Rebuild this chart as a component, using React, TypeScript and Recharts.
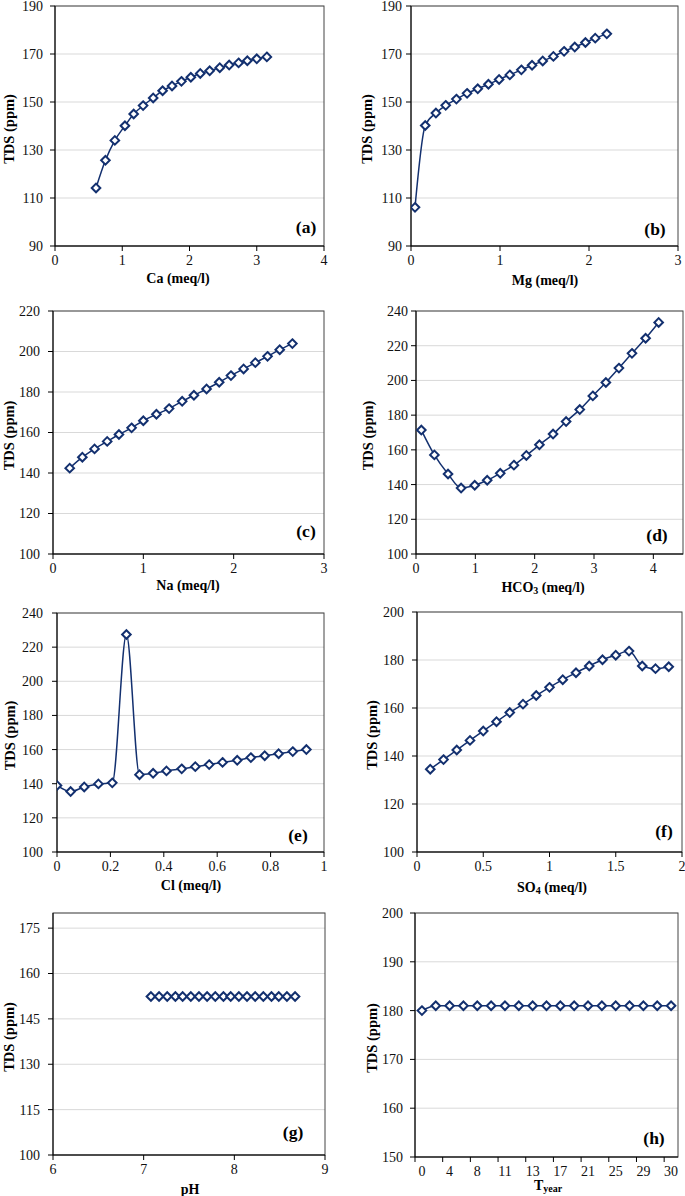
import { LineChart, Line, XAxis, YAxis, CartesianGrid } from 'recharts'

const NAVY = '#13306f'
const FONT = "'Liberation Serif', 'Times New Roman', serif"

// (a) Ca
const caMeq = [0.61, 0.75, 0.89, 1.04, 1.17, 1.31, 1.46, 1.6, 1.74, 1.88, 2.02, 2.16, 2.3, 2.45, 2.59, 2.73, 2.86, 3.0, 3.15]
const caTds = [114.2, 125.7, 134, 140.1, 145, 148.5, 151.7, 154.7, 156.7, 158.6, 160.3, 161.9, 163, 164.3, 165.4, 166.3, 167.2, 168, 168.8]

// (b) Mg
const mgMeq = [0.045, 0.16, 0.28, 0.39, 0.51, 0.63, 0.75, 0.87, 0.99, 1.11, 1.24, 1.36, 1.48, 1.6, 1.72, 1.84, 1.96, 2.07, 2.2]
const mgTds = [106.1, 140.2, 145.4, 148.6, 151.2, 153.6, 155.5, 157.4, 159.4, 161.3, 163.4, 165.3, 167.1, 169.0, 171.1, 172.9, 174.8, 176.6, 178.4]

// (c) Na
const naMeq = [0.185, 0.325, 0.46, 0.6, 0.73, 0.87, 1.0, 1.145, 1.285, 1.43, 1.56, 1.7, 1.84, 1.97, 2.11, 2.24, 2.375, 2.51, 2.65]
const naTds = [142.4, 147.8, 151.9, 155.6, 159.0, 162.3, 165.8, 169.0, 171.8, 175.4, 178.4, 181.5, 184.8, 188.1, 191.4, 194.5, 197.6, 200.9, 203.9]

// (d) HCO3
const hco3Meq = [0.09, 0.31, 0.54, 0.76, 0.99, 1.2, 1.42, 1.65, 1.86, 2.08, 2.31, 2.53, 2.76, 2.98, 3.2, 3.42, 3.64, 3.87, 4.09]
const hco3Tds = [171.4, 157.1, 146.1, 138.0, 139.6, 142.5, 146.5, 151.2, 156.8, 162.9, 169.1, 176.3, 183.2, 191.1, 198.8, 207.1, 215.6, 224.3, 233.4]

// (e) Cl
const clMeq = [0, 0.051, 0.102, 0.155, 0.207, 0.26, 0.309, 0.36, 0.41, 0.467, 0.518, 0.57, 0.62, 0.675, 0.726, 0.778, 0.83, 0.883, 0.934]
const clTds = [139.0, 135.4, 138.1, 139.9, 140.5, 227.4, 145.3, 146.1, 147.5, 148.7, 150.0, 151.2, 152.5, 153.7, 155.3, 156.4, 157.6, 158.8, 160.0]

// (f) SO4
const so4Meq = [0.1, 0.2, 0.3, 0.4, 0.5, 0.6, 0.7, 0.8, 0.9, 1.0, 1.1, 1.2, 1.3, 1.4, 1.5, 1.6, 1.7, 1.8, 1.9]
const so4Tds = [134.5, 138.5, 142.5, 146.5, 150.4, 154.3, 158.1, 161.6, 165.2, 168.6, 171.8, 174.7, 177.5, 180.1, 182.0, 183.7, 177.5, 176.4, 177.2]

// (g) pH
const phVals = [7.08, 7.17, 7.26, 7.35, 7.43, 7.52, 7.61, 7.7, 7.79, 7.88, 7.96, 8.05, 8.14, 8.23, 8.32, 8.41, 8.49, 8.58, 8.67]
const phTds = [152.4, 152.4, 152.4, 152.4, 152.4, 152.4, 152.4, 152.4, 152.4, 152.4, 152.4, 152.4, 152.4, 152.4, 152.4, 152.4, 152.4, 152.4, 152.4]

// (h) time, category axis
const years = ['0', '2', '4', '6', '8', '10', '11', '12', '13', '15', '17', '19', '21', '23', '25', '27', '29', '30', '30']
const yearTds = [180, 181, 181, 181, 181, 181, 181, 181, 181, 181, 181, 181, 181, 181, 181, 181, 181, 181, 181]

const zip = (xs: number[], ys: number[]) => xs.map((x, i) => ({ x, y: ys[i] }))

const Diamond = (p: any) => {
  const { cx, cy } = p
  if (cx == null || cy == null) return <g key={p.key} />
  const r = 4.3
  return (
    <path key={p.key} d={`M${cx},${cy - r}L${cx + r},${cy}L${cx},${cy + r}L${cx - r},${cy}Z`}
      fill="#fff" stroke={NAVY} strokeWidth={2} />
  )
}

interface Geo { L: number; T: number; R: number; B: number; yl: number; gap: number; tx: number; ty: number; lx: number; ly: number }

interface PanelProps {
  letter: string
  data: { x: number; y: number }[]
  xDomain: [number, number]
  xTicks?: number[]
  yDomain: [number, number]
  yTicks: number[]
  title: React.ReactNode
  g: Geo
  catLabels?: string[]
}

function Panel({ letter, data, xDomain, xTicks, yDomain, yTicks, title, g, catLabels }: PanelProps) {
  const yw = 55
  const bx = g.L - yw
  const by = g.T - 8
  const width = Math.min(g.R + 4, 685) - bx
  const height = g.B - by + 46
  const right = bx + width - g.R
  const tickStyle = { fontFamily: FONT, fontSize: 14, fill: '#111' }
  const half = (g.R - g.L) / 19 / 2

  const catTick = (p: any) => (
    <g key={p.index}>
      <line x1={p.x - half} x2={p.x - half} y1={g.B - by} y2={g.B - by + 5} stroke="#000" />
      <text x={p.x} y={p.y} dy="0.71em" textAnchor="middle" fontFamily={FONT} fontSize={14} fill="#111">
        {catLabels ? catLabels[p.payload.value] : p.payload.value}
      </text>
    </g>
  )

  return (
    <div style={{ position: 'absolute', left: bx, top: by, fontFamily: FONT }}>
      <LineChart width={width} height={height} data={data} style={{ fontFamily: FONT }}
        margin={{ top: 8, right, left: 0, bottom: 0 }}>
        <CartesianGrid vertical={false} stroke="#d9d9d9" />
        <XAxis type="number" dataKey="x" domain={xDomain} ticks={xTicks} allowDataOverflow
          height={46} tickSize={5} tickMargin={4} stroke="#000" interval={0}
          tickLine={catLabels ? false : { stroke: '#000' }}
          tick={catLabels ? catTick : tickStyle} />
        <YAxis type="number" domain={yDomain} ticks={yTicks} width={yw} allowDataOverflow
          tickSize={5} tickMargin={g.gap - 5} stroke="#000" interval={0} tick={tickStyle} />
        <Line type="monotone" dataKey="y" stroke={NAVY} strokeWidth={1.5}
          dot={Diamond} activeDot={false} isAnimationActive={false} />
        <rect x={g.L - bx} y={8} width={g.R - g.L} height={g.B - g.T} fill="none" stroke="#444" strokeWidth={1} />
        <text x={g.yl - bx} y={(g.T + g.B) / 2 + 3 - by} textAnchor="middle" dominantBaseline="central"
          transform={`rotate(-90 ${g.yl - bx} ${(g.T + g.B) / 2 + 3 - by})`}
          fontFamily={FONT} fontSize={14.5} fontWeight="bold">TDS (ppm)</text>
        <text x={g.tx - bx} y={g.ty - by} textAnchor="middle" dominantBaseline="central"
          fontFamily={FONT} fontSize={14} fontWeight="bold">{title}</text>
        <text x={g.lx - bx} y={g.ly - by} textAnchor="middle" dominantBaseline="central"
          fontFamily={FONT} fontSize={17.5} fontWeight="bold">({letter})</text>
      </LineChart>
    </div>
  )
}

const sub = (s: string) => <tspan dy={3} fontSize={10}>{s}</tspan>

export default function App() {
  const yearData = yearTds.map((y, i) => ({ x: i, y }))
  const yearTicks = years.map((_, i) => i).filter(i => i % 2 === 0)
  return (
    <div style={{ position: 'absolute', left: 0, top: 0, width: 685, height: 1196, overflow: 'hidden', background: '#fff' }}>
      <Panel letter="a" data={zip(caMeq, caTds)} xDomain={[0, 4]} xTicks={[0, 1, 2, 3, 4]}
        yDomain={[90, 190]} yTicks={[90, 110, 130, 150, 170, 190]} title="Ca (meq/l)"
        g={{ L: 55, T: 6, R: 324, B: 246, yl: 9, gap: 12, tx: 178, ty: 278, lx: 306, ly: 227 }} />
      <Panel letter="b" data={zip(mgMeq, mgTds)} xDomain={[0, 3]} xTicks={[0, 1, 2, 3]}
        yDomain={[90, 190]} yTicks={[90, 110, 130, 150, 170, 190]} title="Mg (meq/l)"
        g={{ L: 411, T: 6, R: 678, B: 246, yl: 367, gap: 9, tx: 545, ty: 280, lx: 655, ly: 229 }} />
      <Panel letter="c" data={zip(naMeq, naTds)} xDomain={[0, 3]} xTicks={[0, 1, 2, 3]}
        yDomain={[100, 220]} yTicks={[100, 120, 140, 160, 180, 200, 220]} title="Na (meq/l)"
        g={{ L: 53, T: 311, R: 324, B: 554, yl: 9, gap: 13, tx: 188, ty: 585, lx: 306, ly: 531 }} />
      <Panel letter="d" data={zip(hco3Meq, hco3Tds)} xDomain={[0, 4.5]} xTicks={[0, 1, 2, 3, 4]}
        yDomain={[100, 240]} yTicks={[100, 120, 140, 160, 180, 200, 220, 240]}
        title={<>HCO{sub('3')}<tspan dy={-3}> (meq/l)</tspan></>}
        g={{ L: 416, T: 311, R: 683, B: 554, yl: 368, gap: 8, tx: 543, ty: 587, lx: 657, ly: 535 }} />
      <Panel letter="e" data={zip(clMeq, clTds)} xDomain={[0, 1]} xTicks={[0, 0.2, 0.4, 0.6, 0.8, 1]}
        yDomain={[100, 240]} yTicks={[100, 120, 140, 160, 180, 200, 220, 240]} title="Cl (meq/l)"
        g={{ L: 57, T: 613, R: 324, B: 852, yl: 10, gap: 14, tx: 191, ty: 885, lx: 298, ly: 835 }} />
      <Panel letter="f" data={zip(so4Meq, so4Tds)} xDomain={[0, 2]} xTicks={[0, 0.5, 1, 1.5, 2]}
        yDomain={[100, 200]} yTicks={[100, 120, 140, 160, 180, 200]}
        title={<>SO{sub('4')}<tspan dy={-3}> (meq/l)</tspan></>}
        g={{ L: 417, T: 612, R: 682, B: 852, yl: 372, gap: 13, tx: 552, ty: 887, lx: 664, ly: 831 }} />
      <Panel letter="g" data={zip(phVals, phTds)} xDomain={[6, 9]} xTicks={[6, 7, 8, 9]}
        yDomain={[100, 180]} yTicks={[100, 115, 130, 145, 160, 175]} title="pH"
        g={{ L: 53, T: 913, R: 325, B: 1155, yl: 9, gap: 13, tx: 190, ty: 1189, lx: 293, ly: 1132 }} />
      <Panel letter="h" data={yearData} xDomain={[-0.5, 18.5]} xTicks={yearTicks} catLabels={years}
        yDomain={[150, 200]} yTicks={[150, 160, 170, 180, 190, 200]}
        title={<>T{sub('year')}</>}
        g={{ L: 415, T: 913, R: 678, B: 1157, yl: 372, gap: 12, tx: 548, ty: 1185, lx: 654, ly: 1138 }} />
    </div>
  )
}
